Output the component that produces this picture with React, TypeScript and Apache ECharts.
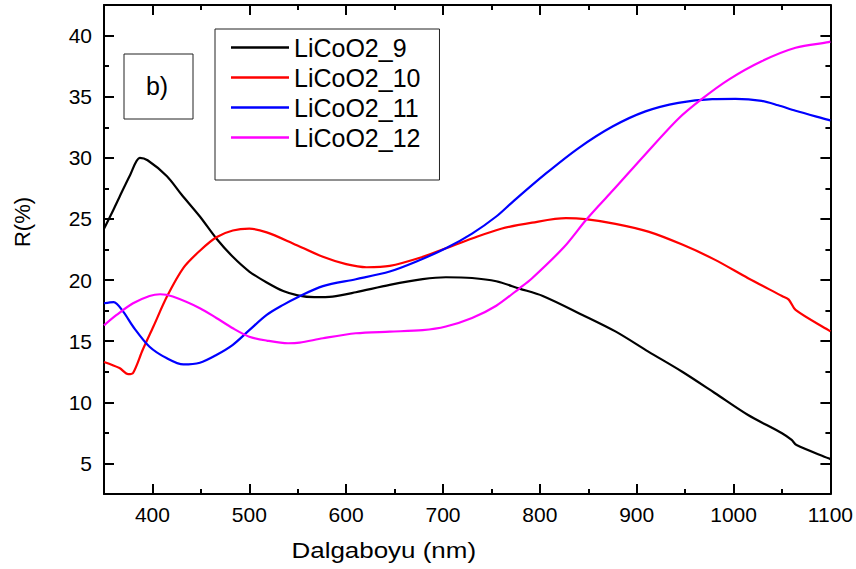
import React, { useEffect, useRef } from "react";
import * as echarts from "echarts";

const FONT = "'Liberation Sans', Arial, sans-serif";

const seriesNames = ["LiCoO2_9", "LiCoO2_10", "LiCoO2_11", "LiCoO2_12"];
const seriesColors = ["#000000", "#ff0000", "#0000ff", "#ff00ff"];

const licoo2_9: [number, number][] = [
  [350, 24.2], [360, 25.8], [366, 26.8], [377, 28.6], [387, 30.0], [395, 29.8],
  [415, 28.5], [430, 27.0], [449, 25.2], [466, 23.4], [483, 21.9], [500, 20.7],
  [518, 19.8], [535, 19.1], [550, 18.75], [567, 18.6], [586, 18.65], [610, 19.0],
  [645, 19.6], [679, 20.07], [703, 20.23], [730, 20.17], [755, 19.9], [779, 19.3],
  [803, 18.7], [844, 17.15], [878, 15.8], [912, 14.15], [947, 12.5], [981, 10.74],
  [1015, 8.96], [1050, 7.47], [1060, 6.92], [1065, 6.5], [1098, 5.42], [1100, 5.35],
];

const licoo2_10: [number, number][] = [
  [350, 13.3], [366, 12.8], [375, 12.3], [380, 12.4], [390, 14.3], [401, 16.2],
  [415, 18.65], [432, 21.0], [449, 22.4], [466, 23.5], [483, 24.05], [500, 24.2],
  [518, 23.9], [545, 23.0], [576, 21.9], [600, 21.3], [621, 21.05], [645, 21.16],
  [679, 21.9], [703, 22.6], [730, 23.4], [760, 24.2], [792, 24.7], [827, 25.06],
  [847, 24.98], [878, 24.6], [912, 23.96], [947, 22.9], [981, 21.65], [1015, 20.15],
  [1050, 18.7], [1057, 18.4], [1064, 17.56], [1098, 15.9], [1100, 15.8],
];

const licoo2_11: [number, number][] = [
  [350, 18.1], [360, 18.2], [370, 17.4], [380, 16.2], [397, 14.55], [415, 13.6],
  [432, 13.1], [449, 13.24], [466, 13.87], [483, 14.7], [500, 15.9], [518, 17.15],
  [535, 17.97], [550, 18.6], [576, 19.5], [610, 20.07], [645, 20.7], [672, 21.5],
  [703, 22.6], [730, 23.8], [755, 25.2], [772, 26.4], [806, 28.7], [840, 30.8],
  [875, 32.56], [909, 33.8], [943, 34.5], [978, 34.8], [1002, 34.82], [1029, 34.66],
  [1046, 34.3], [1064, 33.85], [1098, 33.1], [1100, 33.05],
];

const licoo2_12: [number, number][] = [
  [350, 16.3], [363, 17.15], [380, 18.1], [397, 18.7], [408, 18.84], [421, 18.65],
  [449, 17.7], [466, 16.9], [483, 16.06], [500, 15.37], [518, 15.05], [540, 14.83],
  [552, 14.88], [576, 15.24], [610, 15.65], [645, 15.78], [679, 15.9], [703, 16.2],
  [730, 16.9], [755, 17.9], [779, 19.33], [792, 20.15], [825, 22.7], [847, 24.85],
  [861, 26.1], [875, 27.3], [909, 30.3], [943, 33.2], [967, 34.8],
  [995, 36.4], [1029, 37.9], [1064, 39.0], [1098, 39.46], [1100, 39.5],
];

const allData = [licoo2_9, licoo2_10, licoo2_11, licoo2_12];

const xMajorTicks = [400, 500, 600, 700, 800, 900, 1000, 1100];
const yMajorTicks = [5, 10, 15, 20, 25, 30, 35, 40];

const X_MIN = 350, X_MAX = 1100, Y_MIN = 2.5, Y_MAX = 42.5;

export default function App() {
  const ref = useRef<HTMLDivElement>(null);
  useEffect(() => {
    if (!ref.current) return;
    const chart = echarts.init(ref.current, undefined, { renderer: "svg" });
    const line = { lineStyle: { color: "#000", width: 2 } };
    const tickStyle = { color: "#000", width: 2 };
    const plain = (v: number) => String(v);
    const mkX = (pos: string, major: boolean, labels: boolean) => ({
      type: "value", gridIndex: 0, position: pos, min: X_MIN, max: X_MAX, interval: 50,
      axisLine: { show: major, onZero: false, ...line },
      axisTick: major
        ? { show: true, inside: true, length: 10, lineStyle: tickStyle, customValues: xMajorTicks }
        : { show: true, inside: true, length: 5, lineStyle: tickStyle },
      axisLabel: labels
        ? { show: true, customValues: xMajorTicks, formatter: plain, fontSize: 21, fontFamily: FONT, color: "#000", margin: 10 }
        : { show: false },
      splitLine: { show: false },
    });
    const mkY = (pos: string, major: boolean, labels: boolean) => ({
      type: "value", gridIndex: 0, position: pos, min: Y_MIN, max: Y_MAX, interval: 2.5,
      axisLine: { show: major, onZero: false, ...line },
      axisTick: major
        ? { show: true, inside: true, length: 10, lineStyle: tickStyle, customValues: yMajorTicks }
        : { show: true, inside: true, length: 5, lineStyle: tickStyle },
      axisLabel: labels
        ? { show: true, customValues: yMajorTicks, formatter: plain, fontSize: 21, fontFamily: FONT, color: "#000", margin: 12 }
        : { show: false },
      splitLine: { show: false },
    });
    chart.setOption({
      animation: false,
      backgroundColor: "#fff",
      grid: { left: 104, top: 5, right: 25, bottom: 75, containLabel: false },
      xAxis: [mkX("bottom", true, true), mkX("bottom", false, false), mkX("top", true, false), mkX("top", false, false)],
      yAxis: [mkY("left", true, true), mkY("left", false, false), mkY("right", true, false), mkY("right", false, false)],
      legend: {
        show: true,
        orient: "vertical",
        left: 215,
        top: 29,
        icon: "rect",
        itemWidth: 58,
        itemHeight: 2.5,
        itemGap: 5,
        padding: [6, 19, 30, 16],
        borderColor: "#222",
        borderWidth: 1,
        textStyle: { fontSize: 25, fontFamily: FONT, color: "#000", lineHeight: 25 },
        data: seriesNames,
      },
      graphic: [
        { type: "rect", shape: { x: 124, y: 54, width: 69, height: 65 }, style: { fill: "none", stroke: "#222", lineWidth: 1 } },
        { type: "text", x: 157, y: 86, style: { text: "b)", font: `25px ${FONT}`, fill: "#000", align: "center", verticalAlign: "middle", textAlign: "center", textVerticalAlign: "middle" } },
        { type: "text", x: 468, y: 550, style: { text: "Dalgaboyu (nm)", font: `22px ${FONT}`, fill: "#000", align: "center", verticalAlign: "middle", textAlign: "center", textVerticalAlign: "middle" }, scaleX: 1.18, originX: 468, originY: 550 },
        { type: "text", x: 22, y: 222, rotation: Math.PI / 2, style: { text: "R(%)", font: `22px ${FONT}`, fill: "#000", align: "center", verticalAlign: "middle", textAlign: "center", textVerticalAlign: "middle" } },
      ],
      series: allData.map((d, i) => ({
        name: seriesNames[i],
        type: "line",
        xAxisIndex: 0,
        yAxisIndex: 0,
        data: d,
        symbol: "none",
        smooth: 0.3,
        lineStyle: { color: seriesColors[i], width: 2.2 },
        itemStyle: { color: seriesColors[i] },
      })),
    });
    return () => chart.dispose();
  }, []);
  return <div ref={ref} style={{ position: "absolute", left: 0, top: 0, width: 856, height: 569 }} />;
}
